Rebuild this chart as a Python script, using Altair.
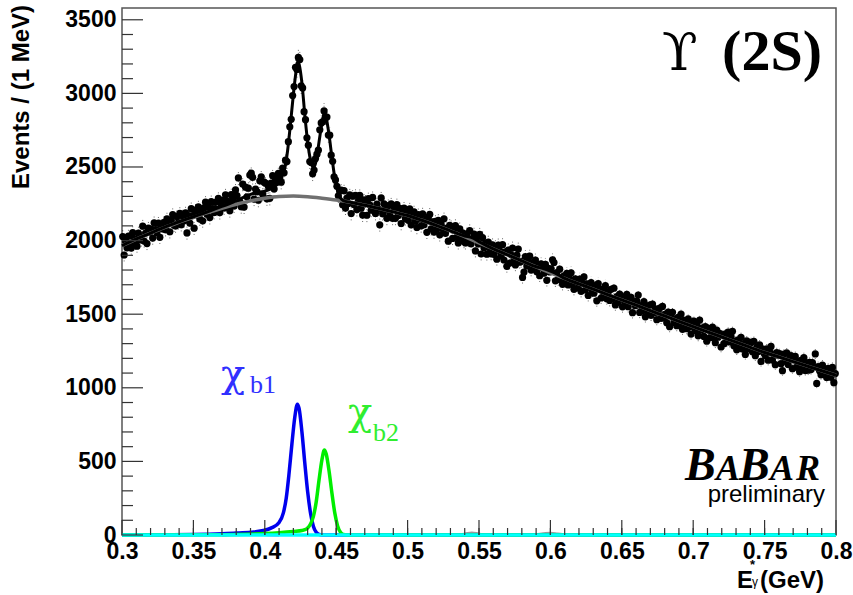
import altair as alt
import pandas as pd

# ---------------- data ----------------
# Events per 1 MeV bin, E*_gamma from 0.300 to 0.800 GeV (500 bins)
counts = [
    2027, 1902, 1996, 1951, 2030, 1980, 1949, 2054, 2013, 1983,
    1962, 2051, 2025, 2004, 2098, 1997, 2051, 1980, 2084, 2058,
    2078, 2017, 2121, 2075, 2054, 2118, 2022, 2101, 2080, 2124,
    2074, 2147, 2116, 2060, 2138, 2177, 2105, 2099, 2163, 2121,
    2185, 2108, 2167, 2135, 2188, 2052, 2170, 2119, 2217, 2170,
    2084, 2207, 2176, 2229, 2147, 2196, 2134, 2223, 2261, 2179,
    2228, 2156, 2265, 2218, 2191, 2260, 2213, 2287, 2190, 2248,
    2273, 2222, 2311, 2270, 2239, 2203, 2312, 2281, 2235, 2344,
    2306, 2426, 2265, 2230, 2384, 2228, 2363, 2297, 2356, 2445,
    2458, 2430, 2282, 2350, 2332, 2274, 2406, 2433, 2315, 2397,
    2390, 2284, 2368, 2287, 2390, 2441, 2351, 2421, 2396, 2456,
    2426, 2397, 2493, 2460, 2546, 2537, 2672, 2773, 2824, 2985,
    3046, 3177, 3163, 3244, 3230, 3051, 3037, 2876, 2821, 2698,
    2648, 2537, 2531, 2454, 2479, 2557, 2587, 2614, 2753, 2799,
    2807, 2881, 2840, 2839, 2717, 2716, 2580, 2539, 2433, 2412,
    2369, 2304, 2338, 2343, 2244, 2339, 2221, 2289, 2252, 2311,
    2184, 2302, 2245, 2308, 2211, 2269, 2307, 2220, 2173, 2276,
    2269, 2172, 2285, 2243, 2206, 2293, 2211, 2184, 2247, 2214,
    2107, 2290, 2183, 2250, 2213, 2151, 2238, 2181, 2249, 2151,
    2219, 2151, 2244, 2171, 2219, 2116, 2189, 2221, 2149, 2191,
    2138, 2215, 2107, 2174, 2195, 2132, 2089, 2176, 2148, 2100,
    2181, 2108, 2139, 2056, 2157, 2179, 2080, 2127, 2058, 2130,
    2081, 2137, 2039, 2110, 2081, 2148, 2049, 2085, 1996, 2103,
    2094, 2015, 2071, 2102, 2023, 1984, 2080, 2026, 2052, 1993,
    1984, 2045, 2001, 2067, 1978, 2014, 2044, 1930, 2021, 1977,
    2043, 1909, 2020, 1951, 1982, 1908, 1989, 1949, 1910, 1971,
    1907, 1958, 1874, 1970, 1931, 1896, 1972, 1868, 1924, 1825,
    1936, 1847, 1903, 1949, 1865, 1835, 1901, 1942, 1853, 1859,
    1750, 1786, 1892, 1828, 1874, 1894, 1800, 1846, 1822, 1868,
    1789, 1835, 1761, 1842, 1813, 1778, 1839, 1730, 1811, 1787,
    1808, 1869, 1851, 1727, 1783, 1735, 1806, 1747, 1703, 1760,
    1721, 1777, 1699, 1740, 1781, 1708, 1669, 1740, 1717, 1678,
    1739, 1655, 1712, 1753, 1665, 1706, 1627, 1684, 1715, 1657,
    1643, 1694, 1591, 1707, 1668, 1610, 1671, 1632, 1694, 1605,
    1651, 1593, 1669, 1605, 1677, 1563, 1620, 1581, 1637, 1604,
    1550, 1617, 1578, 1634, 1551, 1592, 1614, 1510, 1586, 1558,
    1589, 1630, 1512, 1558, 1524, 1586, 1482, 1553, 1515, 1561,
    1492, 1569, 1510, 1536, 1463, 1514, 1541, 1472, 1553, 1475,
    1501, 1442, 1514, 1415, 1491, 1513, 1444, 1465, 1422, 1478,
    1434, 1501, 1397, 1458, 1440, 1401, 1468, 1414, 1365, 1447,
    1453, 1390, 1431, 1353, 1459, 1391, 1407, 1349, 1415, 1317,
    1403, 1340, 1381, 1413, 1339, 1306, 1392, 1344, 1370, 1277,
    1358, 1300, 1366, 1313, 1379, 1311, 1347, 1384, 1285, 1317,
    1258, 1325, 1291, 1343, 1264, 1301, 1227, 1319, 1265, 1302,
    1308, 1245, 1316, 1218, 1274, 1246, 1292, 1179, 1265, 1237,
    1218, 1265, 1187, 1244, 1281, 1188, 1225, 1157, 1239, 1221,
    1232, 1164, 1116, 1228, 1180, 1237, 1159, 1196, 1218, 1130,
    1191, 1213, 1140, 1172, 1109, 1186, 1148, 1205, 1117, 1169,
    1120, 1172, 1124, 1171, 1143, 1230, 1030, 1144, 1116, 1088,
    1154, 1091, 1123, 1070, 1132, 1104, 1071, 1138, 1035, 1097,
]
bin_centers = [round(0.3005 + 0.001 * i, 4) for i in range(len(counts))]

# background (grey) curve, every 10 MeV from 0.30 to 0.80
bg_E = [round(0.30 + 0.01 * i, 2) for i in range(51)]
bg_V = [1965, 2010, 2050, 2090, 2125, 2158, 2190, 2220, 2247, 2270,
        2288, 2300, 2303, 2298, 2288, 2276, 2260, 2240, 2218, 2195,
        2170, 2138, 2103, 2066, 2026, 1985, 1944, 1903, 1862, 1821,
        1780, 1743, 1706, 1670, 1633, 1597, 1561, 1524, 1488, 1451,
        1415, 1380, 1345, 1310, 1275, 1240, 1209, 1178, 1147, 1116, 1085]

# total fit (black)
fit_E = [0.30, 0.31, 0.32, 0.33, 0.34, 0.35, 0.36, 0.37, 0.38, 0.385, 0.39, 0.395,
         0.40, 0.405, 0.41, 0.412, 0.414, 0.416, 0.418, 0.42, 0.422, 0.423, 0.424,
         0.426, 0.428, 0.43, 0.432, 0.434, 0.436, 0.438, 0.44, 0.4417, 0.443, 0.445,
         0.447, 0.449, 0.451, 0.453, 0.455, 0.46, 0.47, 0.48, 0.49, 0.50, 0.51, 0.52,
         0.53, 0.54, 0.545, 0.55, 0.56, 0.57, 0.58, 0.59, 0.595, 0.60, 0.605, 0.61,
         0.62, 0.63, 0.64, 0.65, 0.66, 0.67, 0.68, 0.69, 0.70, 0.71, 0.72, 0.73,
         0.74, 0.75, 0.76, 0.77, 0.78, 0.79, 0.80]
fit_V = [1965, 2011, 2051, 2092, 2128, 2162, 2196, 2232, 2270, 2294, 2314, 2327,
         2336, 2356, 2401, 2440, 2492, 2614, 2795, 2992, 3158, 3217, 3199,
         3071, 2856, 2671, 2546, 2494, 2542, 2671, 2798, 2863, 2834, 2717,
         2565, 2427, 2336, 2290, 2272, 2260, 2240, 2218, 2195, 2170, 2138, 2103,
         2066, 2031, 2020, 1993, 1944, 1903, 1862, 1822, 1810, 1792, 1770, 1743,
         1706, 1670, 1633, 1597, 1561, 1524, 1488, 1451, 1415, 1380, 1345, 1310,
         1275, 1240, 1209, 1178, 1147, 1116, 1085]

# chi_b1 (blue) component
b1_E = [0.30, 0.33, 0.35, 0.37, 0.38, 0.39, 0.40, 0.405, 0.41, 0.413, 0.415, 0.417,
        0.419, 0.421, 0.4228, 0.424, 0.426, 0.428, 0.430, 0.432, 0.434, 0.436,
        0.438, 0.44, 0.80]
b1_V = [0, 2, 4, 9, 13, 19, 32, 50, 85, 150, 250, 420,
        620, 800, 889, 860, 700, 490, 295, 150, 60, 18,
        4, 0, 0]

# chi_b2 (green) component
b2_E = [0.30, 0.36, 0.38, 0.40, 0.41, 0.42, 0.426, 0.428, 0.430, 0.432, 0.434, 0.436,
        0.438, 0.440, 0.4417, 0.443, 0.445, 0.447, 0.449, 0.451, 0.453, 0.455, 0.46, 0.80]
b2_V = [0, 1, 3, 10, 16, 24, 30, 36, 48, 75, 125, 225,
        375, 510, 577, 550, 435, 285, 150, 62, 18, 4, 0, 0]

# small magenta component
mg_E = [0.37, 0.38, 0.385, 0.389, 0.393, 0.40, 0.41]
mg_V = [0, 6, 13, 16, 11, 3, 0]

# small grey bumps
gb_E = [0.53, 0.54, 0.545, 0.55, 0.56, 0.585, 0.59, 0.595, 0.60, 0.605, 0.61, 0.62]
gb_V = [0, 6, 14, 6, 0, 0, 3, 8, 12, 7, 2, 0]

# ticks / labels
x_major = [0.30, 0.35, 0.40, 0.45, 0.50, 0.55, 0.60, 0.65, 0.70, 0.75, 0.80]
x_minor = [round(0.30 + 0.01 * i, 2) for i in range(1, 50)]
y_major = [0, 500, 1000, 1500, 2000, 2500, 3000, 3500]
y_minor = [v for v in range(100, 3600, 100) if v % 500 != 0]

# ---------------- chart ----------------
W, H = 714, 527
SANS = "Liberation Sans"
SERIF = "Liberation Serif"
GREEK = "DejaVu Serif"

xs = alt.Scale(domain=[0.3, 0.8], nice=False, zero=False)
ys = alt.Scale(domain=[0, 3580], nice=False, zero=True)
xax = alt.Axis(values=x_major, format=".2~f", ticks=False, domain=False, grid=False,
               labelFont=SANS, labelFontSize=23, labelFontWeight="bold", labelColor="black",
               labelPadding=5, labelFlush=False, labelOverlap=False, title=None)
yax = alt.Axis(values=y_major, format="d", ticks=False, domain=False, grid=False,
               labelFont=SANS, labelFontSize=23, labelFontWeight="bold", labelColor="black",
               labelPadding=6, labelOverlap=False, title=None)

def X(f):
    return alt.X(f, type="quantitative", scale=xs, axis=xax)

def Y(f):
    return alt.Y(f, type="quantitative", scale=ys, axis=yax)

pts = pd.DataFrame({"E": bin_centers, "N": counts})

errbars = alt.Chart(pts).transform_calculate(
    lo="datum.N - sqrt(datum.N)", hi="datum.N + sqrt(datum.N)"
).mark_rule(color="black", strokeWidth=1, opacity=0.6, strokeDash=[1, 2]).encode(
    x=X("E"), y=Y("lo"), y2="hi:Q")

dots = alt.Chart(pts).mark_circle(color="black", size=52, opacity=1).encode(
    x=X("E"), y=Y("N"))

def curve(E, V, color, width):
    df = pd.DataFrame({"E": E, "V": V})
    return alt.Chart(df).mark_line(color=color, strokeWidth=width, interpolate="monotone").encode(
        x=X("E"), y=Y("V"))

bg_line = curve(bg_E, bg_V, "#707070", 3.5)
fit_line = curve(fit_E, fit_V, "black", 3)
gb_line = curve(gb_E, gb_V, "#9a9a9a", 3)
mg_line = curve(mg_E, mg_V, "#ff00ff", 3)
b1_line = curve(b1_E, b1_V, "#0000ee", 3.5)
b2_line = curve(b2_E, b2_V, "#00ee00", 3.5)

cyan = alt.Chart(pd.DataFrame({"E": [0.3, 0.8], "V": [0, 0]})).mark_line(
    color="#00ffff", strokeWidth=3.5).encode(x=X("E"), y=Y("V"))

# inward ticks
ymaj = alt.Chart(pd.DataFrame({"v": y_major})).mark_rule(color="#333", strokeWidth=1.2).encode(
    y=Y("v"), x=alt.value(0), x2=alt.value(21))
ymin = alt.Chart(pd.DataFrame({"v": y_minor})).mark_rule(color="#333", strokeWidth=1.2).encode(
    y=Y("v"), x=alt.value(0), x2=alt.value(11))
xmaj = alt.Chart(pd.DataFrame({"v": x_major})).mark_rule(color="#333", strokeWidth=1.2).encode(
    x=X("v"), y=alt.value(H), y2=alt.value(H - 15))
xmin = alt.Chart(pd.DataFrame({"v": x_minor})).mark_rule(color="#333", strokeWidth=1.2).encode(
    x=X("v"), y=alt.value(H), y2=alt.value(H - 7))

one = pd.DataFrame({"a": [0]})

def label(txt, px, py, size, font, color="black", weight="normal", style="normal",
          align="left", angle=0, baseline="alphabetic"):
    return alt.Chart(one).mark_text(
        text=txt, fontSize=size, font=font, color=color, fontWeight=weight,
        fontStyle=style, align=align, baseline=baseline, angle=angle
    ).encode(x=alt.value(px), y=alt.value(py))

texts = [
    label("Events / (1 MeV)", -100, -3, 24, SANS, weight="bold", align="right",
          angle=270, baseline="middle"),
    label("E", 615, 580, 24, SANS, weight="bold"),
    label("*", 628, 561, 13, SANS, weight="bold"),
    label("γ", 630, 578, 12, SANS),
    label("(GeV)", 638, 580, 24, SANS, weight="bold"),
    label("ϒ", 540, 62, 52, GREEK),
    label("(2S)", 700, 62, 58, SERIF, weight="bold", align="right"),
    label("B", 563, 472, 46, SERIF, weight="bold", style="italic"),
    label("A", 594, 472, 36, SERIF, weight="bold", style="italic"),
    label("B", 617, 472, 46, SERIF, weight="bold", style="italic"),
    label("A", 648, 472, 36, SERIF, weight="bold", style="italic"),
    label("R", 674, 472, 36, SERIF, weight="bold", style="italic"),
    label("preliminary", 703, 494, 24, SANS, align="right"),
    label("χ", 99, 379, 40, GREEK, color="#3030ff"),
    label("b1", 128, 385, 26, SERIF, color="#3030ff"),
    label("χ", 226, 417, 40, GREEK, color="#30ee30"),
    label("b2", 251, 433, 26, SERIF, color="#30ee30"),
]

chart = alt.layer(
    errbars, dots, bg_line, fit_line, gb_line, mg_line, b1_line, b2_line, cyan,
    ymaj, ymin, xmaj, xmin, *texts
).properties(
    width=W, height=H,
    autosize=alt.AutoSizeParams(type="none"),
    padding={"left": 122, "top": 8, "right": 17, "bottom": 60},
    background="white",
).configure_view(stroke="#555", strokeWidth=1.5)

chart.save("out.html", embed_options={"renderer": "svg", "actions": False})
